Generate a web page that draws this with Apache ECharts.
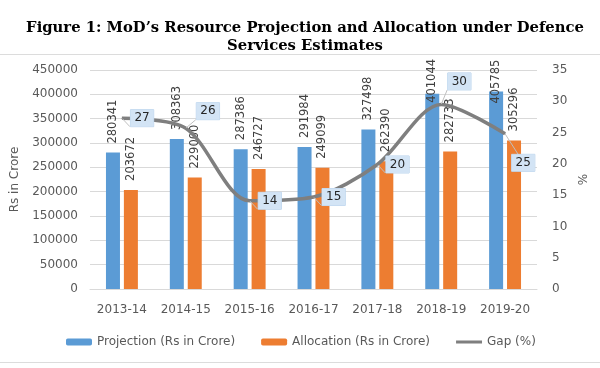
<!DOCTYPE html>
<html><head><meta charset="utf-8">
<script src="https://cdn.jsdelivr.net/npm/echarts@6/dist/echarts.min.js"></script>
<style>html,body{margin:0;padding:0;background:#fff}#c{width:600px;height:368px}</style>
</head><body><div id="c"></div>
<script>
const categories = ['2013-14','2014-15','2015-16','2016-17','2017-18','2018-19','2019-20'];
const projection = [280341, 308363, 287386, 291984, 327498, 401044, 405785];
const allocation = [203672, 229000, 246727, 249099, 262390, 282733, 305296];
const gap = [27.3, 25.7, 14.1, 14.7, 19.9, 29.5, 24.8];
const leftTicks = [0, 450000, 50000];
const rightTicks = [0, 35, 5];

const FONT = 'DejaVu Sans';
const txt = '#595959';
const chart = echarts.init(document.getElementById('c'));

// label placement tweaks (styling only)
const gapLabelOffsets = [[0,0],[2,-17],[0,0],[0,0],[0,0],[-2,-23],[-2,29]];
const projLabelOffsets = [[0,0],[0,0],[0,0],[0,0],[0,0],[-18,0],[-21,0]];

const barLabel = {
  show: true, position: 'top', rotate: 90, align: 'left', verticalAlign: 'middle',
  distance: 9, fontFamily: FONT, fontSize: 11.5, color: '#404040'
};

const lineIcon = 'path://M0,0L26,0L26,0.01L0,0.01Z M0,2L26,2L26,5L0,5Z M0,7L26,7L26,7.01L0,7.01Z';

chart.setOption({
  animation: false,
  title: {
    text: 'Figure 1: MoD’s Resource Projection and Allocation under Defence\nServices Estimates',
    left: 300, top: 14, textAlign: 'center',
    textStyle: { fontFamily: 'DejaVu Serif', fontWeight: 'bold', fontSize: 14.8, color: '#000', lineHeight: 18 }
  },
  graphic: [
    { type: 'line', shape: { x1: 0, y1: 54.5, x2: 600, y2: 54.5 }, style: { stroke: '#dcdcdc', lineWidth: 1 } },
    { type: 'line', shape: { x1: 0, y1: 362.5, x2: 600, y2: 362.5 }, style: { stroke: '#dcdcdc', lineWidth: 1 } }
  ],
  legend: {
    top: 331, left: 61, itemWidth: 26, itemHeight: 7, itemGap: 26,
    textStyle: { fontFamily: FONT, fontSize: 12, color: txt },
    data: ['Projection (Rs in Crore)', 'Allocation (Rs in Crore)', { name: 'Gap (%)', icon: lineIcon }]
  },
  grid: { left: 90, right: 63, top: 70, bottom: 79 },
  xAxis: {
    type: 'category', data: categories,
    axisLine: { lineStyle: { color: '#d9d9d9' } },
    axisTick: { show: false },
    axisLabel: { fontFamily: FONT, fontSize: 12, color: txt, margin: 15, interval: 0 }
  },
  yAxis: [
    {
      type: 'value', min: leftTicks[0], max: leftTicks[1], interval: leftTicks[2],
      name: 'Rs in Crore', nameLocation: 'middle', nameGap: 64, nameRotate: 90,
      nameTextStyle: { fontFamily: FONT, fontSize: 12, color: txt },
      axisLine: { show: false }, axisTick: { show: false },
      axisLabel: { fontFamily: FONT, fontSize: 12, color: txt, margin: 12, formatter: v => String(v) },
      splitLine: { lineStyle: { color: '#d9d9d9' } }
    },
    {
      type: 'value', min: rightTicks[0], max: rightTicks[1], interval: rightTicks[2],
      name: '%', nameLocation: 'middle', nameGap: 38, nameRotate: 90,
      nameTextStyle: { fontFamily: FONT, fontSize: 12, color: txt },
      axisLine: { show: false }, axisTick: { show: false },
      axisLabel: { fontFamily: FONT, fontSize: 12, color: txt, margin: 15 },
      splitLine: { show: false }
    }
  ],
  series: [
    {
      name: 'Projection (Rs in Crore)', type: 'bar', barWidth: 14, barGap: '28%',
      itemStyle: { color: '#5b9bd5' },
      label: barLabel,
      data: projection.map((v, i) => ({ value: v, label: { offset: projLabelOffsets[i] } }))
    },
    {
      name: 'Allocation (Rs in Crore)', type: 'bar', barWidth: 14,
      itemStyle: { color: '#ed7d31' },
      label: barLabel,
      data: allocation
    },
    {
      name: 'Gap (%)', type: 'line', yAxisIndex: 1, smooth: 0.3,
      symbol: 'circle', symbolSize: 1,
      lineStyle: { color: '#7f7f7f', width: 3.5 },
      itemStyle: { color: '#7f7f7f' },
      z: 5,
      label: {
        show: true, position: 'right', distance: 8,
        formatter: p => Math.round(p.value),
        fontFamily: FONT, fontSize: 12, color: '#262626',
        backgroundColor: '#d3e4f5', borderColor: '#b8d2ec', borderWidth: 0.5,
        padding: [3, 4, 2, 4]
      },
      labelLine: { show: true, lineStyle: { color: '#bfbfbf', width: 1 } },
      data: gap.map((v, i) => ({ value: v, label: { offset: gapLabelOffsets[i] } }))
    }
  ]
});
</script></body></html>
